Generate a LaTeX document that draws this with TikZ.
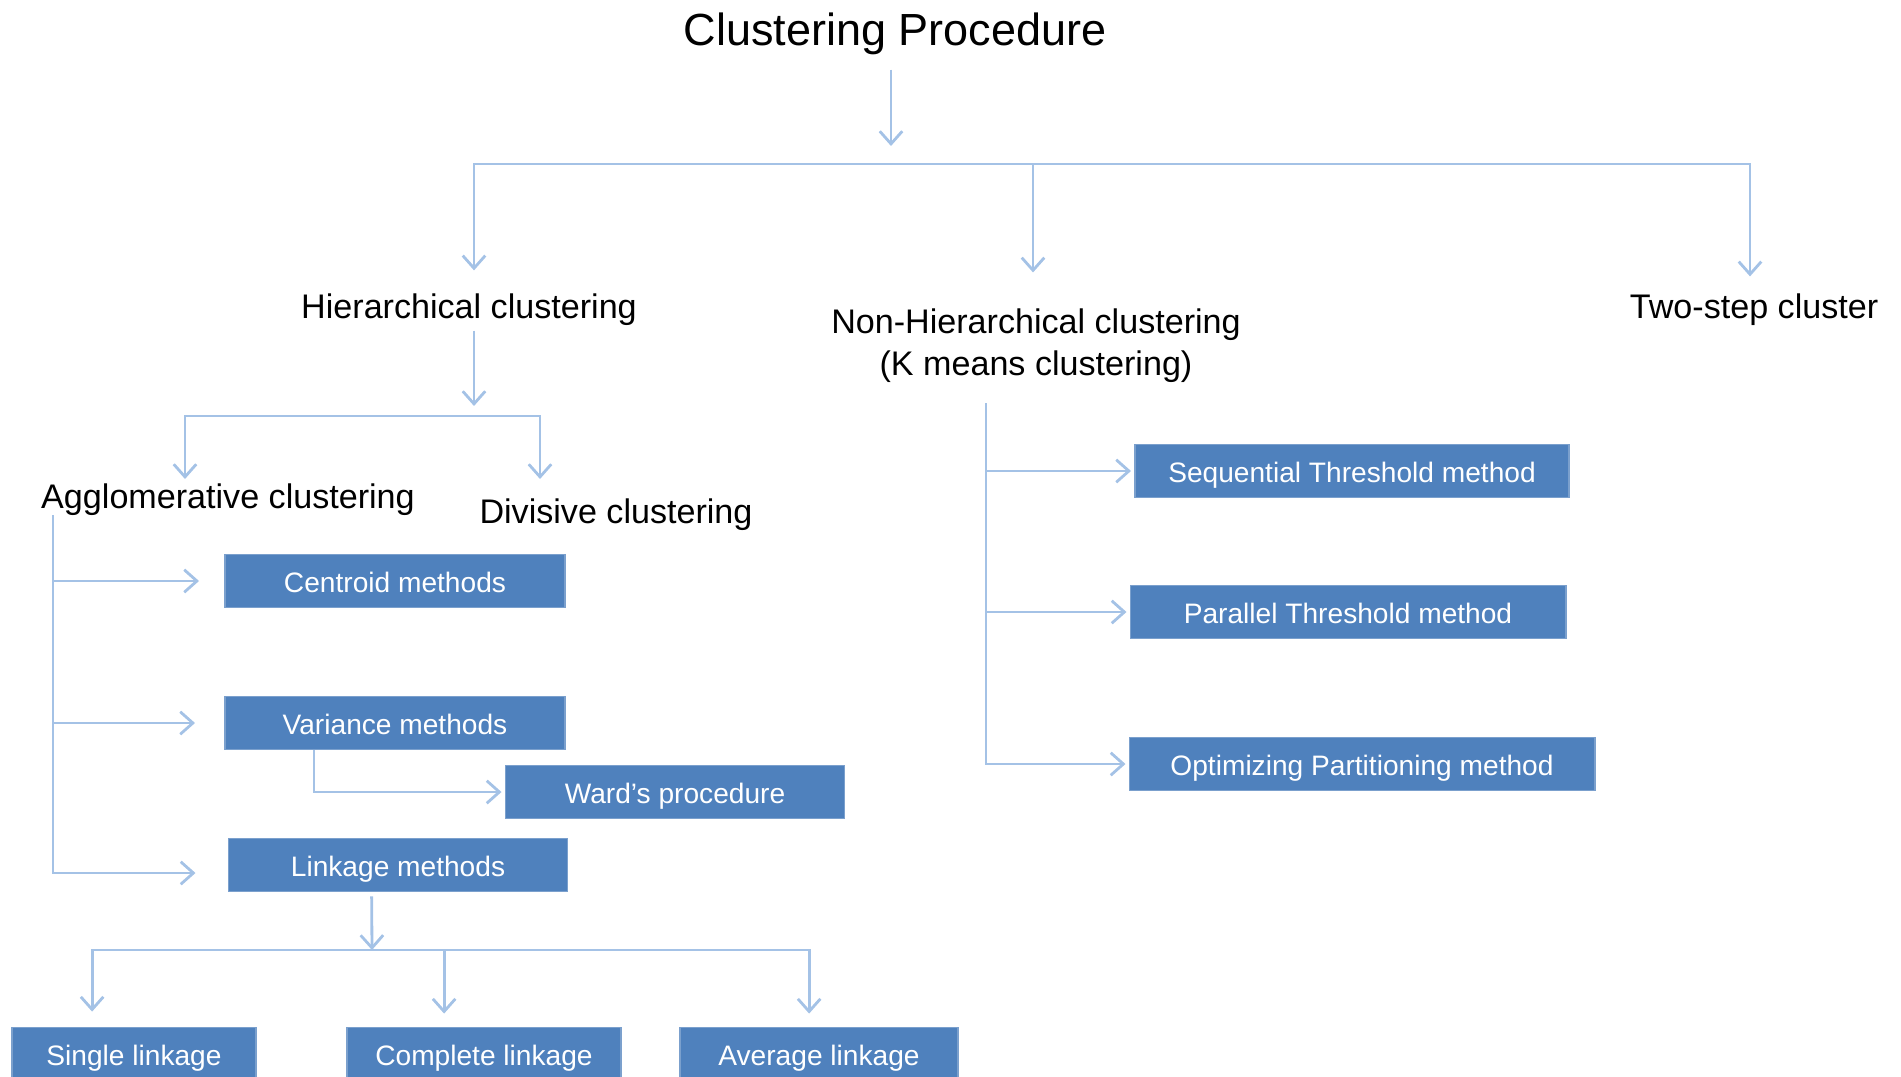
\documentclass[tikz,border=0pt]{standalone}
\usepackage{fontspec}
\setmainfont{Liberation Sans}
\usepackage{xcolor}
\usetikzlibrary{arrows.meta,
positioning,
calc}

\definecolor{boxblue}{HTML}{4F81BD}
\definecolor{linkblue}{HTML}{A4C2E6}

\begin{document}
\begin{tikzpicture}[
    x=0.01cm, y=-0.01cm,
    >={Straight Barb[length=3.6pt,width=6.4pt]},
    conn/.style={draw=linkblue, line width=0.8pt},
    arr/.style={conn, ->},
    label/.style={
        inner sep=0pt,
        align=center,
        font=\fontsize{9.7}{11.9}\selectfont
    },
    box/.style={
        fill=boxblue,
        draw=boxblue!75!white,
        line width=0.5pt,
        text=white,
        inner sep=0pt,
        text height=7pt,
        text depth=0.6pt,
        minimum height=0.53cm,
        font=\fontsize{8}{10}\selectfont
    }
]
\useasboundingbox (0,0) rectangle (1901,1076);
\clip (0,0) rectangle (1901,1076);

% top level
\node[inner sep=0pt, font=\fontsize{12.8}{15}\selectfont] (title) at (895,34) {Clustering Procedure};

\node[label] (hier) at (469,310) {Hierarchical clustering};
\node[label] (nonhier) at (1036,346) {Non-Hierarchical clustering\\(K means clustering)};
\node[label] (twostep) at (1754,310) {Two-step cluster};

\coordinate (topbar) at (891,164);
\draw[arr, shorten <=0.14cm, shorten >=0.18cm] (title.south -| topbar) -- (topbar);
\draw[arr, shorten >=0.23cm] (topbar) -| ([xshift=0.05cm]hier.north);
\draw[arr, shorten >=0.36cm] (topbar) -| ([xshift=-0.03cm]nonhier.north);
\draw[arr, shorten >=0.17cm] (topbar) -| ([xshift=-0.04cm]twostep.north);

% hierarchical
\node[label] (agglo) at (228,500) {Agglomerative clustering};
\node[label] (divis) at (616,515) {Divisive clustering};

\coordinate (hbar) at (474,416);
\coordinate (aggtip) at (185,479);
\coordinate (divtip) at (540,479);
\draw[arr, shorten <=0.04cm, shorten >=0.1cm] (hier.south -| hbar) -- (hbar);
\draw[arr] (hbar) -| (aggtip);
\draw[arr] (hbar) -| (divtip);

\node[box, minimum width=3.40cm] (centroid) at (395,581) {Centroid methods};
\node[box, minimum width=3.40cm] (variance) at (395,723) {Variance methods};
\node[box, minimum width=3.39cm] (ward) at (675,792) {Ward’s procedure};
\node[box, minimum width=3.39cm] (linkage) at (398,865) {Linkage methods};

\coordinate (aggtrunk) at (53,515);
\draw[arr, shorten >=0.25cm] (aggtrunk) |- (centroid.west);
\draw[arr, shorten >=0.29cm] (aggtrunk) |- (variance.west);
\draw[arr, shorten >=0.32cm] (aggtrunk) |- ([yshift=-0.08cm]linkage.west);
\draw[arr, shorten >=0.03cm] ([xshift=0.9cm]variance.south west) |- (ward.west);

% linkage types
\node[box, minimum width=2.44cm] (single) at (134,1054) {Single linkage};
\node[box, minimum width=2.74cm] (complete) at (484,1054) {Complete linkage};
\node[box, minimum width=2.78cm] (average) at (819,1054) {Average linkage};

\coordinate (lbar) at (372,950);
\draw[arr, shorten <=0.04cm] ([xshift=1.44cm]linkage.south west) -- (lbar);
\draw[arr, shorten >=0.15cm] (lbar) -| ([xshift=0.81cm]single.north west);
\draw[arr, shorten >=0.13cm] (lbar) -| ([xshift=0.98cm]complete.north west);
\draw[arr, shorten >=0.13cm] (lbar) -| ([xshift=1.30cm]average.north west);

% non-hierarchical
\node[box, minimum width=4.34cm] (sequential) at (1352,471) {Sequential Threshold method};
\node[box, minimum width=4.35cm] (parallel) at (1348,612) {Parallel Threshold method};
\node[box, minimum width=4.65cm] (optimizing) at (1362,764) {Optimizing Partitioning method};

\coordinate (nhtrunk) at (986,403);
\draw[arr, shorten >=0.03cm] (nhtrunk) |- (sequential.west);
\draw[arr, shorten >=0.03cm] (nhtrunk) |- (parallel.west);
\draw[arr, shorten >=0.03cm] (nhtrunk) |- (optimizing.west);

\end{tikzpicture}
\end{document}
